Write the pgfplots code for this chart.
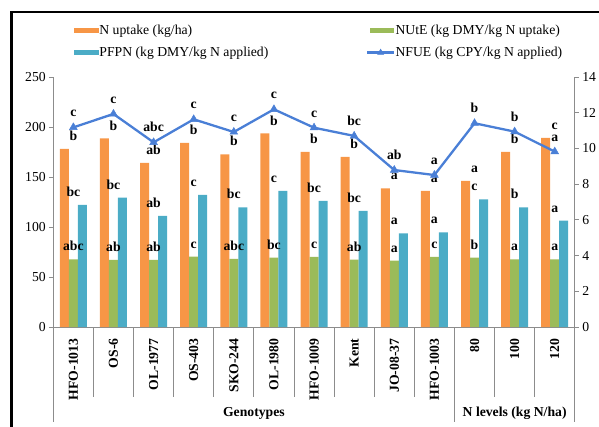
\documentclass[border=0pt]{standalone}
\usepackage{fontspec}
\setmainfont{Liberation Serif}
\usepackage{pgfplots}
\usepackage{pgfplotstable}
\pgfplotsset{compat=1.18}

\definecolor{nupt}{HTML}{F79646}
\definecolor{nute}{HTML}{9BBB59}
\definecolor{pfpn}{HTML}{4BACC6}
\definecolor{nfue}{HTML}{4A7FD6}
\definecolor{axgray}{HTML}{8C8C8C}

% x: genotype / N level index; letters give the significance groups
\pgfplotstableread{
x  nup   nupL nute nuteL pfpn  pfpnL nfue  nfueL
0  178.0 b    67.7 abc   122.2 bc    11.18 c
1  188.5 b    67.0 ab    129.3 bc    11.93 c
2  164.0 ab   67.0 ab    111.0 ab    10.34 abc
3  184.0 b    70.3 c     132.0 c     11.63 c
4  172.7 b    68.0 abc   119.7 bc    10.92 c
5  193.5 b    69.3 bc    136.0 c     12.19 c
6  175.0 b    70.0 c     126.0 bc    11.16 c
7  170.0 b    67.3 ab    116.0 bc    10.70 bc
8  138.7 a    66.3 a     93.7  a     8.79  ab
9  136.0 a    70.0 c     94.7  a     8.51  a
10 146.0 a    69.3 b     127.7 c     11.41 b
11 175.0 b    67.7 a     119.7 b     10.94 b
12 189.0 c    67.7 a     106.3 a     9.82  a
}\effdata

\newcommand{\chartfont}{\fontsize{13.7bp}{16bp}\selectfont}

\pgfplotsset{
  common/.style={
    at={(53.3bp,100bp)}, anchor=south west,
    scale only axis, width=521.5bp, height=250bp,
    xmin=-0.5, xmax=12.5,
    font=\chartfont,
    tick label style={font=\chartfont},
    /pgf/number format/assume math mode=true,
    axis line style={draw=axgray, line width=0.9bp},
    tick align=outside, major tick length=4bp,
    ytick style={draw=axgray, line width=0.9bp},
    legend cell align=left,
  },
  patchkey/.style={legend image code/.code={%
    \fill[##1] (0bp,-2.6bp) rectangle (25.5bp,2.6bp);}},
  patchkeyR/.style={legend image code/.code={%
    \fill[##1] (2.3bp,-2.6bp) rectangle (26.7bp,2.6bp);}},
  linekey/.style={legend image code/.code={%
    \draw[##1, mark size=3.5bp, mark repeat=2, mark phase=2]
      plot coordinates {(0bp,0bp) (13.3bp,0bp) (26.7bp,0bp)};}},
  letters/.style={nodes near coords, point meta=explicit symbolic,
    every node near coord/.append style={font=\bfseries\chartfont, text=black, yshift=#1}},
}

\begin{document}
\begin{tikzpicture}
\useasboundingbox (0,0) rectangle (599bp,427bp);
\begin{scope}
  \clip (0,0) rectangle (599bp,427bp);
  \draw[line width=2.5bp] (11.3bp,-5bp) -- (11.3bp,415.2bp) -- (620bp,415.2bp);
\end{scope}

\begin{axis}[common,
  ymin=0, ymax=250, ytick={0,50,...,250},
  axis x line*=bottom, axis y line*=left,
  xtick={0,...,12},
  xticklabels={HFO-1013,OS-6,OL-1977,OS-403,SKO-244,OL-1980,HFO-1009,Kent,JO-08-37,HFO-1003,80,100,120},
  xticklabel style={rotate=90, anchor=east, font=\bfseries\chartfont},
  xticklabel shift=4bp,
  xtick style={draw=none},
  clip=false,
  legend style={at={(axis description cs:0.0384,1.142)}, anchor=west,
    draw=none, fill=none, inner sep=0pt, row sep=10.5bp,
    nodes={inner sep=0.4bp}},
]
\addplot[ybar, bar width=9bp, bar shift=-9bp, fill=nupt, draw=none, letters=4.7bp, patchkey]
  table[x=x, y=nup, meta=nupL]{\effdata};
\addlegendentry{N uptake (kg/ha)}
\addplot[ybar, bar width=9bp, bar shift=0bp, fill=nute, draw=none, letters=4.7bp, forget plot]
  table[x=x, y=nute, meta=nuteL]{\effdata};
\addplot[ybar, bar width=9bp, bar shift=9bp, fill=pfpn, draw=none, letters=4.7bp, patchkey]
  table[x=x, y=pfpn, meta=pfpnL]{\effdata};
\addlegendentry{PFPN (kg DMY/kg N applied)}

% category separators below the x axis
\pgfplotsinvokeforeach{0.5,1.5,2.5,3.5,4.5,5.5,6.5,7.5,8.5,10.5,11.5}{
  \draw[axgray, line width=0.9bp] (axis cs:#1,0) -- ++(0bp,-70bp);
}
\pgfplotsinvokeforeach{-0.5,9.5,12.5}{
  \draw[axgray, line width=0.9bp] (axis cs:#1,0) -- ++(0bp,-94.7bp);
}
\node[font=\bfseries\chartfont, anchor=base] at ([yshift=-89bp]axis cs:4.5,0) {Genotypes};
\node[font=\bfseries\chartfont, anchor=base] at ([yshift=-89bp]axis cs:11,0) {N levels (kg N/ha)};
\end{axis}

\begin{axis}[common,
  ymin=0, ymax=14, ytick={0,2,...,14},
  axis y line*=right, axis x line=none,
  legend style={at={(axis description cs:0.5996,1.142)}, anchor=west,
    draw=none, fill=none, inner sep=0pt, row sep=10.5bp,
    nodes={inner sep=0.4bp}},
]
\addlegendimage{fill=nute, draw=none, patchkeyR}
\addlegendentry{NUtE (kg DMY/kg N uptake)}
\addplot[nfue, line width=2.3bp, mark=triangle*, mark size=4.5bp,
  mark options={solid, line width=0.5bp}, letters=6.7bp, linekey]
  table[x=x, y=nfue, meta=nfueL]{\effdata};
\addlegendentry{NFUE (kg CPY/kg N applied)}
\end{axis}
\end{tikzpicture}
\end{document}
